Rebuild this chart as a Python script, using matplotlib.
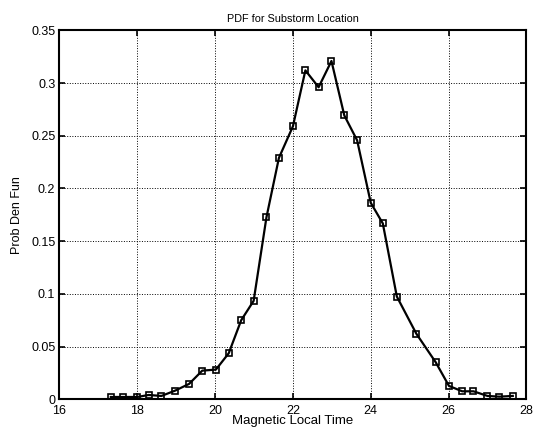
import matplotlib
matplotlib.use("Agg")
import matplotlib.pyplot as plt

# Magnetic local time (hours) and probability density
mlt = [17.32, 17.62, 18.0, 18.29, 18.62, 18.97, 19.33, 19.67, 20.02, 20.35,
       20.67, 20.99, 21.32, 21.64, 22.0, 22.32, 22.66, 22.99, 23.32, 23.65,
       24.0, 24.31, 24.67, 25.17, 25.67, 26.01, 26.35, 26.64, 27.0, 27.3, 27.65]
pdf = [0.0022, 0.0022, 0.0022, 0.0041, 0.0032, 0.0082, 0.0146, 0.0272, 0.0282, 0.0437,
       0.075, 0.0934, 0.1728, 0.229, 0.259, 0.312, 0.296, 0.3209, 0.2693, 0.2456,
       0.1864, 0.1668, 0.0975, 0.0623, 0.0351, 0.0127, 0.0076, 0.0076, 0.0032, 0.0025, 0.0032]

xticks = [16, 18, 20, 22, 24, 26, 28]
yticks = [0, 0.05, 0.1, 0.15, 0.2, 0.25, 0.3, 0.35]
ytick_labels = ["0", "0.05", "0.1", "0.15", "0.2", "0.25", "0.3", "0.35"]

plt.rcParams["font.family"] = ["Liberation Sans", "DejaVu Sans"]

fig = plt.figure(figsize=(5.33, 4.33), dpi=100)
ax = fig.add_axes([0.1116, 0.0778, 0.876, 0.8522])

ax.plot(mlt, pdf, color="black", linewidth=1.6, marker="s", markersize=5,
        markerfacecolor="none", markeredgecolor="black", markeredgewidth=1.2)

ax.set_xlim(16, 28)
ax.set_ylim(0, 0.35)
ax.set_xticks(xticks)
ax.set_yticks(yticks)
ax.set_yticklabels(ytick_labels)
ax.tick_params(direction="in", top=True, right=True, labelsize=9, length=4,
               width=1.2)
ax.tick_params(axis="y", pad=3)
ax.tick_params(axis="x", pad=4)
ax.grid(True, linestyle=":", color="black", linewidth=0.7)
for s in ax.spines.values():
    s.set_linewidth(1.5)

ax.set_title("PDF for Substorm Location", fontsize=7.8, pad=6)
ax.set_xlabel("Magnetic Local Time", fontsize=9.5, labelpad=-1)
ax.set_ylabel("Prob Den Fun", fontsize=9, labelpad=6)

fig.savefig("out.png", dpi=100)
